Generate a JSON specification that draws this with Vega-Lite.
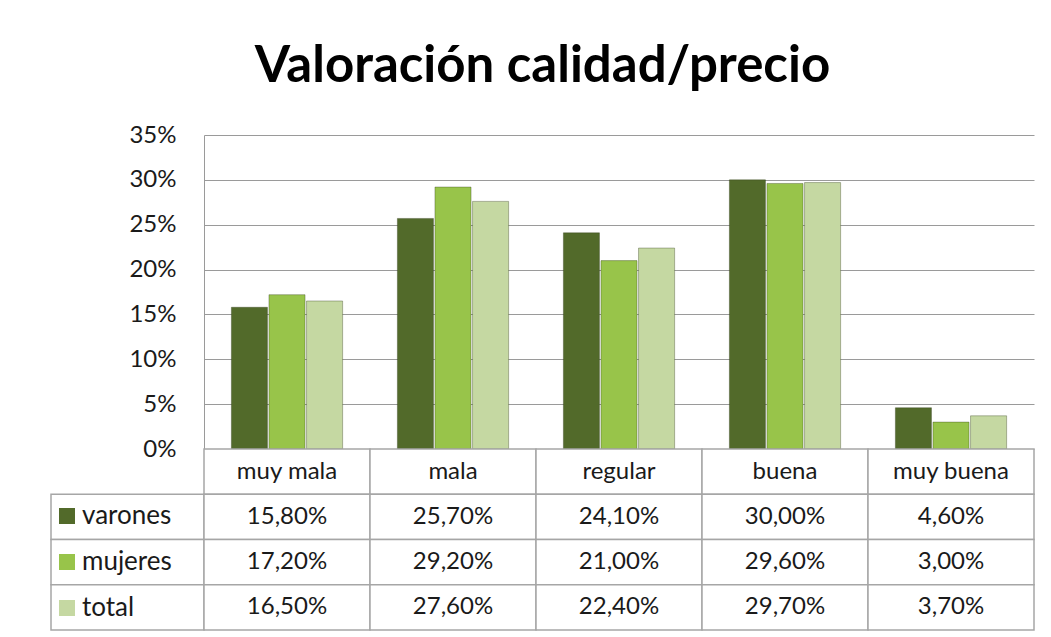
{
  "$schema": "https://vega.github.io/schema/vega-lite/v6.json",
  "background": "white",
  "padding": {"left": 50, "top": 41, "right": 0, "bottom": 0},
  "title": {"text": "Valoración calidad/precio", "font": "Lato", "fontSize": 51, "fontWeight": "bold", "color": "#000000", "anchor": "middle", "offset": 30},
  "datasets": {
    "vals": [
      {"categoria": "muy mala", "serie": "varones", "valor": 0.158},
      {"categoria": "muy mala", "serie": "mujeres", "valor": 0.172},
      {"categoria": "muy mala", "serie": "total", "valor": 0.165},
      {"categoria": "mala", "serie": "varones", "valor": 0.257},
      {"categoria": "mala", "serie": "mujeres", "valor": 0.292},
      {"categoria": "mala", "serie": "total", "valor": 0.276},
      {"categoria": "regular", "serie": "varones", "valor": 0.241},
      {"categoria": "regular", "serie": "mujeres", "valor": 0.210},
      {"categoria": "regular", "serie": "total", "valor": 0.224},
      {"categoria": "buena", "serie": "varones", "valor": 0.300},
      {"categoria": "buena", "serie": "mujeres", "valor": 0.296},
      {"categoria": "buena", "serie": "total", "valor": 0.297},
      {"categoria": "muy buena", "serie": "varones", "valor": 0.046},
      {"categoria": "muy buena", "serie": "mujeres", "valor": 0.030},
      {"categoria": "muy buena", "serie": "total", "valor": 0.037}
    ],
    "cats": [
      {"categoria": "muy mala"},
      {"categoria": "mala"},
      {"categoria": "regular"},
      {"categoria": "buena"},
      {"categoria": "muy buena"}
    ],
    "series": [
      {"serie": "varones"},
      {"serie": "mujeres"},
      {"serie": "total"}
    ]
  },
  "columns": 2,
  "bounds": "flush",
  "spacing": 0,
  "concat": [
    {
      "width": 153,
      "height": 314,
      "data": {"values": []},
      "mark": "text"
    },
    {
      "width": 830,
      "height": 314,
      "data": {"name": "vals"},
      "mark": {"type": "bar", "strokeWidth": 1, "strokeOpacity": 0.35, "stroke": "#2e3a17"},
      "encoding": {
        "x": {"field": "categoria", "type": "nominal", "sort": ["muy mala", "mala", "regular", "buena", "muy buena"], "scale": {"paddingInner": 0.33, "paddingOuter": 0.165}, "axis": null},
        "xOffset": {"field": "serie", "type": "nominal", "sort": ["varones", "mujeres", "total"], "scale": {"paddingInner": 0.04}},
        "y": {"field": "valor", "type": "quantitative", "scale": {"domain": [0, 0.35], "nice": false}, "axis": {"title": null, "values": [0, 0.05, 0.1, 0.15, 0.2, 0.25, 0.3, 0.35], "format": ".0%", "ticks": false, "labelPadding": 28, "labelFont": "Lato", "labelFontSize": 24, "labelColor": "#1a1a1a", "domainColor": "#9a9a9a", "gridColor": "#9a9a9a", "grid": true}},
        "color": {"field": "serie", "type": "nominal", "sort": ["varones", "mujeres", "total"], "scale": {"domain": ["varones", "mujeres", "total"], "range": ["#526a2a", "#98c44a", "#c5d8a2"]}, "legend": {"orient": "none", "legendX": 3, "legendY": 368, "title": null, "symbolType": "square", "symbolSize": 256, "symbolStrokeWidth": 0, "labelFont": "Lato", "labelFontSize": 26, "labelColor": "#1a1a1a", "labelOffset": 2, "rowPadding": 20}}
      }
    },
    {
      "width": 153,
      "height": 181,
      "data": {"name": "series"},
      "mark": {"type": "rect", "fill": "white", "stroke": "#a6a6a6", "strokeWidth": 1.5},
      "encoding": {
        "y": {"field": "serie", "type": "nominal", "scale": {"domain": ["cab", "varones", "mujeres", "total"], "paddingInner": 0, "paddingOuter": 0}, "axis": null}
      }
    },
    {
      "width": 830,
      "height": 181,
      "layer": [
        {
          "data": {"name": "cats"},
          "mark": {"type": "rect", "fill": "white", "stroke": "#a6a6a6", "strokeWidth": 1.5},
          "encoding": {
            "x": {"field": "categoria", "type": "nominal", "scale": {"domain": ["muy mala", "mala", "regular", "buena", "muy buena"], "paddingInner": 0, "paddingOuter": 0}, "axis": null},
            "y": {"datum": "cab", "type": "nominal", "scale": {"domain": ["cab", "varones", "mujeres", "total"], "paddingInner": 0, "paddingOuter": 0}, "axis": null}
          }
        },
        {
          "data": {"name": "vals"},
          "mark": {"type": "rect", "fill": "white", "stroke": "#a6a6a6", "strokeWidth": 1.5},
          "encoding": {
            "x": {"field": "categoria", "type": "nominal"},
            "y": {"field": "serie", "type": "nominal"}
          }
        },
        {
          "data": {"name": "vals"},
          "mark": {"type": "text", "font": "Lato", "fontSize": 24, "color": "#1a1a1a", "baseline": "middle"},
          "encoding": {
            "x": {"field": "categoria", "type": "nominal"},
            "y": {"field": "serie", "type": "nominal"},
            "text": {"field": "valor", "type": "quantitative", "format": ".2%"}
          }
        },
        {
          "data": {"name": "cats"},
          "mark": {"type": "text", "font": "Lato", "fontSize": 24, "color": "#1a1a1a", "baseline": "middle"},
          "encoding": {
            "x": {"field": "categoria", "type": "nominal"},
            "y": {"datum": "cab", "type": "nominal"},
            "text": {"field": "categoria", "type": "nominal"}
          }
        }
      ]
    }
  ],
  "config": {
    "view": {"stroke": null},
    "font": "Lato",
    "locale": {"number": {"decimal": ",", "thousands": ".", "grouping": [3], "currency": ["", " €"]}}
  }
}
